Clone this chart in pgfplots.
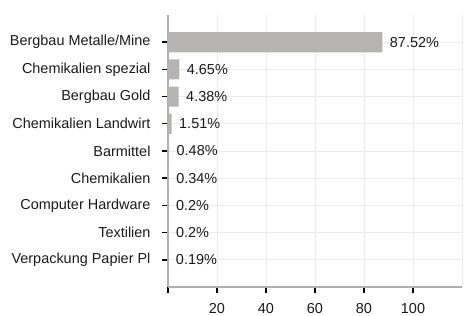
\documentclass[border=0pt]{standalone}
\usepackage{pgfplots}
\pgfplotsset{compat=1.18}
\usepackage{fontspec}
\setmainfont{Liberation Sans}
\definecolor{barc}{HTML}{B5B4B0}
\definecolor{txt}{HTML}{1A1A1A}
\definecolor{gridc}{HTML}{EBEBEB}
\definecolor{axc}{HTML}{AEAEAE}
\begin{document}
\begin{tikzpicture}
\useasboundingbox (-168bp,-29bp) rectangle (298bp,287bp);
\begin{axis}[
  at={(0,0)}, anchor=south west,
  scale only axis, width=294bp, height=272bp,
  xmin=0, xmax=120, ymin=-1, ymax=9,
  xbar, bar width=0.74, bar shift=0pt,
  axis x line*=bottom, axis y line*=left,
  axis line style={axc, line width=1.2bp},
  xtick={0,20,40,60,80,100},
  xticklabels={,20,40,60,80,100},
  extra x ticks={120}, extra x tick labels={},
  extra x tick style={major tick length=0pt, grid=major},
  ytick={0,...,8},
  yticklabels={Verpackung Papier Pl,Textilien,Computer Hardware,Chemikalien,Barmittel,Chemikalien Landwirt,Bergbau Gold,Chemikalien spezial,Bergbau Metalle/Mine},
  tick align=outside, major tick length=6bp,
  x tick style={draw=black, line width=1.2bp},
  y tick style={draw=black, line width=1.4bp},
  grid=major, major grid style={gridc, line width=0.9bp},
  ticklabel style={font=\fontsize{14.5}{16}\selectfont, text=txt},
  yticklabel style={xshift=-8bp},
  xticklabel style={yshift=-6.5bp},
  /pgf/number format/assume math mode=true,
  nodes near coords, point meta=explicit symbolic,
  every node near coord/.append style={font=\fontsize{14.5}{16}\selectfont, text=txt, anchor=west, xshift=4bp},
  clip=false,
]
\addplot[fill=barc, draw=none] table[meta=lab] {
x y lab
87.52 8 87.52\%
4.65 7 4.65\%
4.38 6 4.38\%
1.51 5 1.51\%
0.48 4 0.48\%
0.34 3 0.34\%
0.2 2 0.2\%
0.2 1 0.2\%
0.19 0 0.19\%
};
\end{axis}
\end{tikzpicture}
\end{document}
